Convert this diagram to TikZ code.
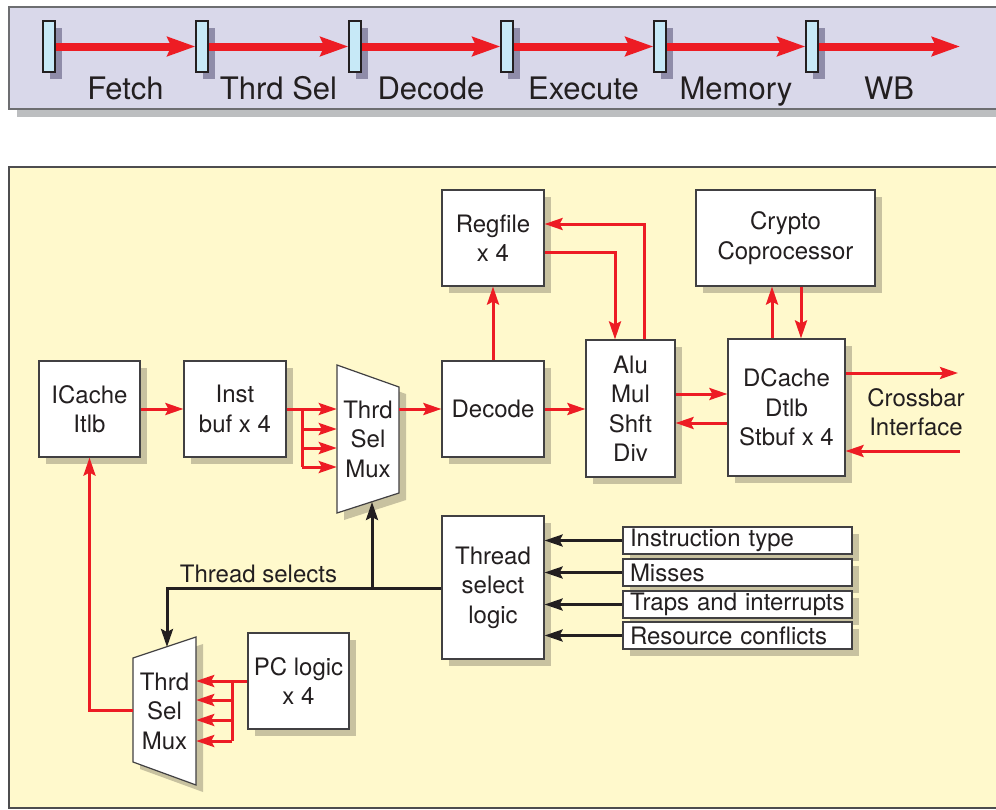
\documentclass[tikz,border=0pt]{standalone}
\usepackage{fontspec}
\setmainfont{TeX Gyre Heros}
\usepackage{tikz}
\usetikzlibrary{arrows.meta,shadows,positioning}

\definecolor{bandfill}{HTML}{D9D8EA}
\definecolor{bandline}{HTML}{6D6E71}
\definecolor{bandshadow}{HTML}{BCBEC0}
\definecolor{regfill}{HTML}{C7E9F7}
\definecolor{regshadow}{HTML}{8F8CA9}
\definecolor{panelfill}{HTML}{FFF9CC}
\definecolor{panelline}{HTML}{4D4D4F}
\definecolor{boxline}{HTML}{414042}
\definecolor{boxshadow}{HTML}{C8C2A0}
\definecolor{redcol}{HTML}{ED1C24}
\definecolor{txtcol}{HTML}{231F20}

\begin{document}
\begin{tikzpicture}[x=1pt,y=-1pt,font=\fontsize{24}{29.5}\selectfont,text=txtcol,
	boxnode/.style={rectangle,draw=boxline,line width=1.2pt,fill=white,inner sep=0pt,align=center,drop shadow={shadow xshift=7pt,shadow yshift=-7pt,fill=boxshadow,opacity=1}},
	regnode/.style={rectangle,draw=txtcol,line width=1.2pt,fill=regfill,minimum width=12pt,minimum height=51pt,inner sep=0pt,drop shadow={shadow xshift=7pt,shadow yshift=-7pt,fill=regshadow,opacity=1}},
	inputnode/.style={rectangle,draw=boxline,line width=1.2pt,fill=white,minimum width=229pt,minimum height=27pt,inner sep=0pt,text width=215pt,align=left,drop shadow={shadow xshift=7pt,shadow yshift=-7pt,fill=boxshadow,opacity=1}},
	muxshape/.style={draw=boxline,line width=1.2pt,fill=white,drop shadow={shadow xshift=7pt,shadow yshift=-7pt,fill=boxshadow,opacity=1}},
	muxtext/.style={minimum width=62pt,minimum height=148pt,inner sep=0pt,align=center},
	stagelabel/.style={font=\fontsize{31}{36}\selectfont,anchor=base,inner sep=0pt},
	pipearrow/.style={draw=redcol,line width=8pt,-{Stealth[length=28pt,width=19pt,inset=4pt]}},
	redarrow/.style={draw=redcol,line width=3pt,-{Stealth[length=18pt,width=12pt,inset=3pt]}},
	redline/.style={draw=redcol,line width=3pt},
	blackarrow/.style={draw=txtcol,line width=3pt,-{Stealth[length=18pt,width=12pt,inset=3pt]}}]
	
	\useasboundingbox (0,0) rectangle (996,809);
	
	% pipeline band
	\filldraw[fill=bandfill,draw=bandline,line width=1.5pt,drop shadow={shadow xshift=8pt,shadow yshift=-8pt,fill=bandshadow,opacity=1}] (9,7) rectangle (1010,109);
	
	\node [regnode] (r1) at (49, 46.5) {};
	\node [regnode] (r2) at (202, 46.5) {};
	\node [regnode] (r3) at (355, 46.5) {};
	\node [regnode] (r4) at (507, 46.5) {};
	\node [regnode] (r5) at (660, 46.5) {};
	\node [regnode] (r6) at (812, 46.5) {};
	\coordinate (wbend) at (960, 46.5);
	
	\draw[pipearrow] (r1.east) to (r2.west);
	\draw[pipearrow] (r2.east) to (r3.west);
	\draw[pipearrow] (r3.east) to (r4.west);
	\draw[pipearrow] (r4.east) to (r5.west);
	\draw[pipearrow] (r5.east) to (r6.west);
	\draw[pipearrow] (r6.east) to (wbend);
	
	\node [stagelabel] (fetch) at (125.5, 99) {Fetch};
	\node [stagelabel] (thrdsel) at (278.5, 99) {Thrd Sel};
	\node [stagelabel] (decodest) at (431, 99) {Decode};
	\node [stagelabel] (execute) at (583.5, 99) {Execute};
	\node [stagelabel] (memory) at (736, 99) {Memory};
	\node [stagelabel] (wb) at (889, 99) {WB};
	
	% core panel
	\filldraw[fill=panelfill,draw=panelline,line width=1.5pt] (9,167) rectangle (1010,808);
	
	\node [boxnode,minimum width=101pt,minimum height=96pt] (icache) at (89.5, 409) {ICache\\Itlb};
	\node [boxnode,minimum width=102pt,minimum height=96pt] (ibuf) at (235, 409) {Inst\\buf x 4};
	\filldraw[muxshape] (337,365) -- (399,387) -- (399,493) -- (337,513) -- cycle;
	\node [muxtext] (muxA) at (368, 439) {Thrd\\Sel\\Mux};
	\node [boxnode,minimum width=102pt,minimum height=96pt] (decode) at (493, 409) {Decode};
	\node [boxnode,minimum width=102pt,minimum height=96pt] (regfile) at (493, 238) {Regfile\\x 4};
	\node [boxnode,minimum width=89pt,minimum height=137pt] (alu) at (630.5, 408.5) {Alu\\Mul\\Shft\\Div};
	\node [boxnode,minimum width=117pt,minimum height=137pt] (dcache) at (786.5, 407.5) {DCache\\Dtlb\\Stbuf x 4};
	\node [boxnode,minimum width=179pt,minimum height=96pt] (crypto) at (785.5, 238) {Crypto\\Coprocessor};
	\node [inner sep=0pt,align=center] (xbar) at (916, 412) {Crossbar\\Interface};
	\coordinate (xbarout) at (958, 373);
	\coordinate (xbarin) at (960, 451);
	
	\node [boxnode,minimum width=102pt,minimum height=143pt] (thread) at (493, 587.5) {Thread\\select\\logic};
	\node [inputnode] (insttype) at (737.5, 540.5) {Instruction type};
	\node [inputnode] (misses) at (737.5, 572.5) {Misses};
	\node [inputnode] (traps) at (737.5, 604.5) {Traps and interrupts};
	\node [inputnode] (conflicts) at (737.5, 635.5) {Resource conflicts};
	
	\filldraw[muxshape] (133,658) -- (196,637) -- (196,785) -- (133,762) -- cycle;
	\node [muxtext,minimum width=63pt] (muxB) at (164.5, 711) {Thrd\\Sel\\Mux};
	\node [boxnode,minimum width=101pt,minimum height=96pt] (pclogic) at (298.5, 681) {PC logic\\x 4};
	\node [anchor=base,inner sep=0pt] (selects) at (258.5, 582) {Thread selects};
	
	\coordinate (ibufsplit) at (302, 409);
	\coordinate (pcsplit) at (232, 681);
	\coordinate (muxAin) at (372, 502);
	\coordinate (muxBin) at (167, 647);
	
	% fetch side
	\draw[redarrow] (icache) to (ibuf);
	\draw[redarrow] (ibuf.east) to (muxA.west |- ibuf.east);
	\draw[redline] (ibufsplit) to (ibufsplit |- 0,467);
	\draw[redarrow] (ibufsplit |- 0,429) to (muxA.west |- 0,429);
	\draw[redarrow] (ibufsplit |- 0,448) to (muxA.west |- 0,448);
	\draw[redarrow] (ibufsplit |- 0,467) to (muxA.west |- 0,467);
	\draw[redarrow] (muxA.east |- decode.west) to (decode.west);
	
	% execute side
	\draw[redarrow] (decode.north) to (regfile.south);
	\draw[redarrow] (decode.east) to (alu.west |- decode.east);
	\draw[redarrow] (alu.north -| 644,0) |- (regfile.east |- 0,224);
	\draw[redarrow] (regfile.east |- 0,252) -| (alu.north -| 615,0);
	\draw[redarrow] (alu.east |- 0,394) to (dcache.west |- 0,394);
	\draw[redarrow] (dcache.west |- 0,423) to (alu.east |- 0,423);
	\draw[redarrow] (dcache.north -| 772,0) to (crypto.south -| 772,0);
	\draw[redarrow] (crypto.south -| 801,0) to (dcache.north -| 801,0);
	\draw[redarrow] (dcache.east |- xbarout) to (xbarout);
	\draw[redarrow] (xbarin) to (dcache.east |- xbarin);
	
	% thread select
	\draw[blackarrow] (insttype.west) to (thread.east |- insttype.west);
	\draw[blackarrow] (misses.west) to (thread.east |- misses.west);
	\draw[blackarrow] (traps.west) to (thread.east |- traps.west);
	\draw[blackarrow] (conflicts.west) to (thread.east |- conflicts.west);
	\draw[blackarrow] (thread.west |- 0,588) -| (muxBin);
	\draw[blackarrow] (muxAin |- 0,588) to (muxAin);
	
	% pc side
	\draw[redarrow] (pclogic.west) to (muxB.east |- pclogic.west);
	\draw[redline] (pcsplit) to (pcsplit |- 0,741);
	\draw[redarrow] (pcsplit |- 0,700) to (muxB.east |- 0,700);
	\draw[redarrow] (pcsplit |- 0,720) to (muxB.east |- 0,720);
	\draw[redarrow] (pcsplit |- 0,741) to (muxB.east |- 0,741);
	\draw[redarrow] (muxB.west |- 0,710) -| (icache.south);
\end{tikzpicture}
\end{document}
